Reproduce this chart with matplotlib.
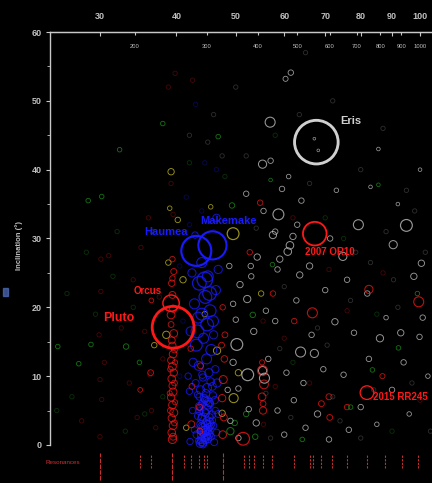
import numpy as np
import matplotlib.pyplot as plt
from matplotlib.ticker import NullLocator, MultipleLocator
from matplotlib.transforms import blended_transform_factory
from matplotlib.patches import Rectangle

plt.rcParams['font.family'] = ['Liberation Sans', 'DejaVu Sans']

# semi-major axis (AU), inclination (deg), rough diameter (km) per group

# resonant objects (red)
red_a = [39.4, 39.3, 39.5, 39.3, 39.6, 39.4, 39.2, 39.5, 39.4, 39.3,
         39.6, 39.4, 39.2, 39.5, 39.4, 39.3, 39.6, 39.2, 39.5, 39.4,
         39.3, 39.6, 39.4, 39.7, 39.1, 39.7, 39.1, 39.7, 39.2, 39.0,
         39.8, 39.5, 39.8, 42.3, 42.4, 42.2, 43.7, 43.6, 43.8, 47.6,
         47.8, 47.5, 47.7, 47.9, 47.4, 48.0, 47.6, 36.3, 36.4, 34.9,
         55.4, 55.2, 54.8, 57.5, 62.3, 66.7, 69.0, 71.0, 71.2, 76.0,
         82.5, 99.5, 51.4, 55.3, 55.6, 55.2, 55.4, 52.7, 86.8, 39.4]
red_i = [0.8, 1.8, 2.8, 3.9, 4.7, 5.8, 6.9, 7.7, 8.6, 9.6,
         10.5, 11.4, 12.3, 13.2, 14.4, 15.2, 16.2, 18.9, 19.8, 21.8,
         23.5, 25.2, 27.0, 3.2, 5.0, 9.0, 11.0, 13.8, 17.5, 7.5,
         6.2, 1.2, 12.0, 3.0, 8.5, 14.0, 2.0, 5.5, 11.5, 1.5,
         4.0, 6.8, 9.5, 12.5, 14.5, 16.0, 20.0, 10.5, 21.0, 8.0,
         6.0, 12.0, 35.2, 22.0, 18.0, 19.2, 6.0, 7.0, 4.0, 5.5,
         22.6, 20.8, 0.9, 10.8, 8.8, 7.0, 5.0, 28.0, 10.0, 24.2]
red_d = [450, 420, 430, 400, 440, 420, 400, 430, 380, 420,
         400, 430, 380, 420, 400, 380, 420, 430, 400, 380,
         350, 330, 300, 320, 320, 320, 300, 320, 320, 280,
         280, 380, 280, 380, 320, 300, 320, 340, 320, 420,
         380, 400, 440, 360, 320, 320, 300, 320, 260, 260,
         320, 280, 300, 300, 300, 550, 320, 330, 320, 300,
         450, 550, 700, 550, 480, 420, 400, 300, 280, 300]

# classical belt (blue)
blue_a = [44.0, 44.5, 43.2, 45.0, 44.2, 45.5, 43.8, 44.8, 46.0, 43.4,
          44.4, 45.3, 46.5, 42.8, 44.1, 45.0, 43.6, 44.7, 42.5, 46.2,
          45.8, 43.0, 44.2, 42.0, 46.8, 45.2, 43.5, 44.8, 42.6, 46.3,
          41.8, 45.6, 43.1, 44.3, 42.2, 46.0, 44.9, 43.4, 45.4, 42.8,
          44.6, 46.4, 43.6, 45.0, 42.4, 44.0, 46.8, 42.9, 46.5, 44.5,
          45.3, 44.0, 43.3, 45.9, 44.7, 43.9, 45.1, 44.3, 46.6, 42.1,
          44.2, 45.0, 43.9, 44.6, 45.4, 44.0, 45.7, 44.8, 43.6, 45.2,
          44.4, 45.9, 43.8, 44.9, 45.5, 44.1, 46.1, 43.7, 44.6, 45.3,
          43.5, 44.3, 45.1, 45.8, 44.0, 44.7, 43.8, 45.4, 44.5, 43.3,
          46.3, 44.9, 45.6, 44.2, 43.9, 45.0, 44.6, 43.6, 45.2, 44.8]
blue_i = [0.5, 1.0, 1.5, 2.0, 2.5, 1.2, 3.0, 3.5, 2.8, 4.2,
          4.8, 4.0, 1.8, 2.2, 6.0, 5.8, 7.0, 7.5, 5.0, 6.5,
          8.5, 9.0, 9.8, 7.8, 4.5, 10.5, 11.5, 12.5, 12.0, 11.0,
          10.0, 13.8, 14.5, 15.5, 16.5, 16.0, 17.5, 18.5, 19.5, 20.5,
          21.5, 22.5, 23.5, 24.5, 25.0, 26.5, 25.5, 30.5, 33.0, 24.0,
          22.0, 19.0, 16.5, 18.0, 3.0, 0.8, 1.5, 2.0, 9.0, 0.5,
          0.3, 0.9, 1.4, 2.1, 3.3, 3.8, 4.4, 5.2, 5.6, 6.2,
          6.8, 7.2, 8.0, 8.3, 9.2, 10.2, 0.4, 0.2, 1.1, 2.6,
          0.6, 1.7, 2.4, 3.6, 4.1, 4.6, 5.4, 6.0, 6.6, 7.3,
          5.0, 1.3, 2.9, 0.1, 2.7, 3.1, 0.7, 4.9, 1.9, 6.4]
blue_d = [450, 400, 420, 380, 450, 400, 420, 380, 350, 400,
          450, 420, 380, 350, 400, 450, 380, 420, 350, 400,
          420, 380, 400, 350, 380, 450, 500, 550, 450, 400,
          350, 600, 650, 550, 500, 450, 700, 600, 650, 550,
          700, 500, 750, 600, 450, 550, 450, 350, 400, 850,
          750, 650, 700, 600, 500, 450, 500, 550, 450, 350,
          400, 450, 420, 480, 400, 450, 420, 500, 430, 460,
          420, 400, 450, 480, 420, 400, 380, 420, 450, 400,
          350, 380, 400, 350, 380, 400, 350, 380, 400, 350,
          350, 380, 350, 400, 380, 350, 400, 380, 350, 400]

# scattered disc (white)
white_a = [56.9, 61.5, 60.3, 55.3, 57.0, 58.7, 61.3, 62.0, 60.8, 71.3,
           79.3, 95.0, 90.4, 74.8, 100.5, 97.7, 63.6, 58.5, 54.2, 52.9,
           50.8, 52.2, 56.0, 63.8, 67.2, 52.3, 55.7, 55.3, 50.2, 72.6,
           78.0, 86.0, 93.0, 99.8, 68.0, 62.2, 58.5, 54.0, 60.0, 65.0,
           71.0, 76.5, 80.0, 85.0, 90.0, 96.0, 103.0, 82.0, 88.0, 76.0,
           70.0, 66.0, 58.0, 53.5, 50.0, 49.5, 50.5, 52.5, 56.5, 60.5,
           64.5, 69.5, 75.0, 82.5, 94.0, 101.0, 67.2, 68.2, 59.5, 64.0,
           73.0, 83.0, 92.0, 100.0, 85.5, 52.0, 55.5, 61.0, 57.5, 62.8,
           66.5, 53.0, 48.8, 49.5, 48.5, 49.0, 50.5, 59.0, 63.0, 58.0]
white_i = [46.9, 54.1, 53.2, 40.8, 41.3, 33.5, 29.0, 30.3, 28.1, 30.0,
           32.0, 31.9, 29.1, 27.4, 26.4, 24.5, 24.7, 25.5, 27.3, 26.0,
           23.3, 21.2, 19.5, 13.5, 13.3, 10.2, 9.7, 10.8, 14.6, 17.9,
           16.3, 15.5, 16.3, 15.7, 4.5, 6.5, 5.0, 3.2, 1.5, 2.5,
           0.8, 2.2, 5.5, 3.0, 8.0, 4.5, 10.0, 22.0, 18.5, 24.0,
           22.5, 26.0, 18.0, 16.5, 18.2, 12.0, 8.2, 5.2, 12.5, 10.5,
           9.0, 11.0, 10.2, 12.5, 12.0, 18.5, 44.5, 42.8, 37.2, 35.5,
           37.0, 37.5, 35.0, 40.0, 43.0, 36.5, 34.0, 39.0, 30.5, 21.0,
           16.0, 24.5, 26.0, 20.5, 8.0, 3.5, 1.0, 27.0, 32.0, 31.0]
white_d = [550, 300, 280, 450, 300, 600, 420, 350, 420, 300,
           550, 650, 450, 450, 350, 350, 350, 300, 350, 300,
           350, 400, 300, 550, 450, 650, 550, 450, 650, 350,
           300, 400, 350, 300, 350, 300, 300, 350, 300, 300,
           300, 300, 300, 250, 300, 250, 250, 300, 250, 300,
           300, 350, 300, 350, 300, 350, 300, 300, 300, 300,
           300, 300, 300, 300, 300, 300, 150, 150, 300, 300,
           250, 200, 200, 200, 200, 300, 300, 250, 400, 300,
           300, 300, 300, 300, 300, 300, 300, 350, 300, 300]

# yellow group
yellow_a = [49.5, 39.2, 39.0, 45.5, 40.2, 38.5, 36.8, 46.6, 49.6, 47.5,
            41.5, 44.5, 50.5, 55.0, 41.0, 38.8]
yellow_i = [30.7, 39.7, 34.4, 34.6, 32.7, 16.0, 14.5, 13.7, 6.8, 4.6,
            2.5, 19.0, 10.5, 22.0, 24.0, 26.5]
yellow_d = [650, 350, 250, 250, 300, 400, 300, 400, 500, 350,
            300, 300, 350, 300, 350, 300]

# green group
green_a = [38.0, 32.3, 30.2, 28.7, 46.8, 49.3, 25.6, 29.0, 33.1, 27.7,
           34.8, 49.0, 52.0, 57.4, 85.5, 53.3, 92.2, 83.6, 49.8, 53.8,
           64.2, 77.0, 99.0, 57.0]
green_i = [46.7, 42.9, 36.1, 35.5, 44.8, 34.8, 14.3, 14.6, 14.3, 11.8,
           12.0, 2.0, 4.5, 26.2, 37.8, 18.9, 14.1, 10.9, 3.2, 1.2,
           0.8, 5.5, 22.0, 38.5]
green_d = [250, 250, 250, 250, 250, 300, 250, 250, 300, 250,
           250, 400, 300, 250, 200, 300, 250, 250, 300, 300,
           250, 250, 250, 200]

# faint (uncertain orbits)
dimred_a = [35.0, 30.1, 30.2, 30.0, 36.2, 32.5, 34.5, 37.5, 38.8, 39.8,
            36.0, 31.0, 33.5, 28.0, 37.0, 35.5, 39.5, 39.2, 42.5, 30.5,
            60.0, 58.0, 76.0, 87.0, 66.0, 55.4, 55.5, 62.0, 71.0, 100.0,
            30.0, 29.9, 30.1, 36.4, 38.0, 34.0]
dimred_i = [28.7, 22.3, 6.6, 1.2, 10.2, 17.0, 4.0, 21.5, 52.0, 54.0,
            33.0, 27.5, 9.0, 3.5, 2.5, 16.5, 33.5, 38.0, 53.0, 12.0,
            15.5, 8.5, 19.5, 25.0, 9.0, 18.0, 3.0, 33.0, 25.5, 6.5,
            9.5, 16.0, 27.0, 5.0, 12.5, 24.0]
dimgreen_a = [26.5, 29.5, 31.5, 34.0, 36.5, 27.0, 33.0, 38.0, 42.0, 48.0,
              58.0, 70.0, 85.0, 62.0, 75.0, 90.0, 25.5, 28.5, 32.0, 35.5]
dimgreen_i = [22.0, 19.0, 24.5, 20.0, 31.0, 7.0, 2.0, 7.0, 41.0, 39.0,
              45.0, 33.0, 19.0, 12.0, 30.0, 2.0, 5.0, 28.0, 31.0, 4.5]
dimgray_a = [45.0, 47.5, 52.0, 63.5, 72.0, 80.0, 95.0, 66.0, 78.5, 88.0,
             98.0, 102.0, 84.0, 72.0, 60.0, 68.0, 92.0, 104.0, 57.0, 80.0,
             46.0, 42.0, 50.0, 65.0, 87.0, 54.0, 59.0, 70.5, 77.0, 83.0,
             90.5, 97.0, 61.5, 56.0, 74.0]
dimgray_i = [44.0, 42.0, 42.0, 48.0, 50.0, 40.0, 37.0, 38.0, 28.0, 31.0,
             34.0, 28.0, 8.0, 7.0, 23.0, 17.0, 20.0, 2.0, 1.0, 1.0,
             48.0, 45.0, 52.0, 57.0, 46.0, 31.5, 14.0, 14.5, 21.0, 26.5,
             24.0, 9.0, 4.0, 7.5, 3.5]
dimblue_a = [43.0, 44.5, 41.5, 46.0, 42.0, 40.5, 41.0, 40.5, 46.5, 44.0]
dimblue_i = [49.5, 41.0, 36.0, 31.0, 32.0, 26.0, 18.0, 10.0, 40.0, 34.0]

# named dwarf planets
named = ['Pluto', 'Orcus', 'Haumea', 'Makemake', 'Eris', '2007 OR10', '2015 RR245']
named_a = [39.5, 39.2, 43.1, 45.8, 67.7, 67.3, 81.9]
named_i = [17.1, 20.6, 28.2, 29.0, 44.0, 30.7, 7.6]
named_d = [2300, 900, 1650, 1550, 2400, 1300, 750]

# mean-motion resonances with Neptune (AU)
res_a = [30.0, 34.9, 36.3, 39.4, 41.1, 42.3, 43.6, 44.4, 44.9, 47.7,
         51.6, 52.6, 53.5, 55.3, 57.4, 62.3, 66.2, 66.9, 69.0, 71.7,
         76.0, 81.8, 87.6, 93.6, 99.1]
res_major = [30.0, 39.4, 47.7]

a_ticks = [30, 40, 50, 60, 70, 80, 90, 100]
period_ticks = [200, 300, 400, 500, 600, 700, 800, 900, 1000]

RED = '#ff1818'
BLUE = '#1a1aff'
WHITE = '#d0d0d0'
YELLOW = '#c0b820'
GREEN = '#1c9c1c'
TXT = '#c0c0c0'


def msize(d):
    return 2.07 * (np.asarray(d, dtype=float) / 110.0) ** 2


def mwidth(d):
    return 0.45 + np.asarray(d, dtype=float) / 1300.0


fig = plt.figure(figsize=(4.32, 4.83), dpi=100)
fig.patch.set_facecolor('black')
ax = fig.add_axes([50 / 432, 0.0503, 1 - 50 / 432, 0.8834])
ax.set_facecolor('black')
ax.set_xscale('log')
ax.set_xlim(24.86, 104.6)
ax.set_ylim(-2, 60)

# faint points first
for xs, ys, c, al in [(dimgreen_a, dimgreen_i, GREEN, 0.3),
                      (dimred_a, dimred_i, RED, 0.28),
                      (dimgray_a, dimgray_i, WHITE, 0.22),
                      (dimblue_a, dimblue_i, BLUE, 0.3)]:
    ax.scatter(xs, ys, s=msize([240] * len(xs)), facecolors='none',
               edgecolors=c, linewidths=0.6, alpha=al, zorder=2)

for xs, ys, ds, c, al in [(green_a, green_i, green_d, GREEN, 0.75),
                          (yellow_a, yellow_i, yellow_d, YELLOW, 0.8),
                          (white_a, white_i, white_d, WHITE, 0.72),
                          (blue_a, blue_i, blue_d, BLUE, 0.8),
                          (red_a, red_i, red_d, RED, 0.75)]:
    ax.scatter(xs, ys, s=msize(ds), facecolors='none', edgecolors=c,
               linewidths=mwidth(ds) * 0.9, alpha=al, zorder=3)

named_col = [RED, RED, BLUE, BLUE, WHITE, RED, RED]
label_off = [(-28, 7), (-6.5, 8.6), (-6.5, 13.7), (-8.6, 17.3),
             (17.3, 15.1), (-7.2, -13), (4.3, -2.9)]
label_ha = ['right', 'right', 'right', 'left', 'left', 'left', 'left']
label_fs = [9, 7, 8, 8, 8, 7, 7]
ax.scatter(named_a, named_i, s=msize(named_d), facecolors='none',
           edgecolors=named_col, linewidths=mwidth(named_d) * 0.9, zorder=4)
for k, name in enumerate(named):
    ax.annotate(name, (named_a[k], named_i[k]), xytext=label_off[k],
                textcoords='offset points', ha=label_ha[k], va='center',
                color=named_col[k], fontsize=label_fs[k], fontweight='bold',
                zorder=5)

# axes styling
for side in ['right', 'bottom']:
    ax.spines[side].set_visible(False)
for side in ['left', 'top']:
    ax.spines[side].set_color('#c8c8c8')
    ax.spines[side].set_linewidth(1.0)
ax.spines['left'].set_bounds(0, 60)

ax.xaxis.tick_top()
ax.set_xticks(a_ticks)
ax.set_xticklabels([str(t) for t in a_ticks])
ax.xaxis.set_minor_locator(NullLocator())
ax.tick_params(axis='x', which='major', direction='in', length=3, pad=8,
               colors='#c8c8c8', labelcolor=TXT, labelsize=6.5)

ax.set_yticks(range(0, 61, 10))
ax.yaxis.set_minor_locator(MultipleLocator(5))
ax.tick_params(axis='y', which='major', direction='out', length=3, pad=3,
               colors='#c8c8c8', labelcolor=TXT, labelsize=6.5)
ax.tick_params(axis='y', which='minor', direction='out', length=2,
               colors='#c8c8c8')
for lab in ax.get_xticklabels() + ax.get_yticklabels():
    lab.set_fontweight('bold')
ax.set_ylabel('Inclination (°)', color=TXT, fontsize=5.5, fontweight='bold',
              labelpad=6)

sec = ax.secondary_xaxis('top', functions=(lambda a: np.power(a, 1.5),
                                           lambda p: np.power(p, 2.0 / 3.0)))
sec.set_xticks(period_ticks)
sec.set_xticklabels([str(p) for p in period_ticks])
sec.xaxis.set_minor_locator(NullLocator())
sec.tick_params(axis='x', direction='in', length=2, pad=-12,
                colors='#c8c8c8', labelcolor=TXT, labelsize=4.2)
sec.spines['top'].set_color('#c8c8c8')

# resonance marks below the plot
trans = blended_transform_factory(ax.transData, fig.transFigure)
short = [a for a in res_a if a not in res_major]
ax.vlines(short, 0.032, 0.058, transform=trans, colors='#c83030',
          linewidths=0.8, linestyles=(0, (2, 1.2)), clip_on=False)
ax.vlines(res_major, 0.006, 0.062, transform=trans, colors='#c83030',
          linewidths=0.8, linestyles=(0, (4, 1.2)), clip_on=False)
fig.text(45 / 432, (483 - 462) / 483, 'Resonances', color='#d03030',
         fontsize=4.5, va='center', ha='left')

fig.add_artist(Rectangle((3 / 432, (483 - 296) / 483), 5 / 432, 8 / 483,
                         transform=fig.transFigure, color='#5070c0',
                         alpha=0.7))

fig.savefig('out.png', dpi=100, facecolor='black')
